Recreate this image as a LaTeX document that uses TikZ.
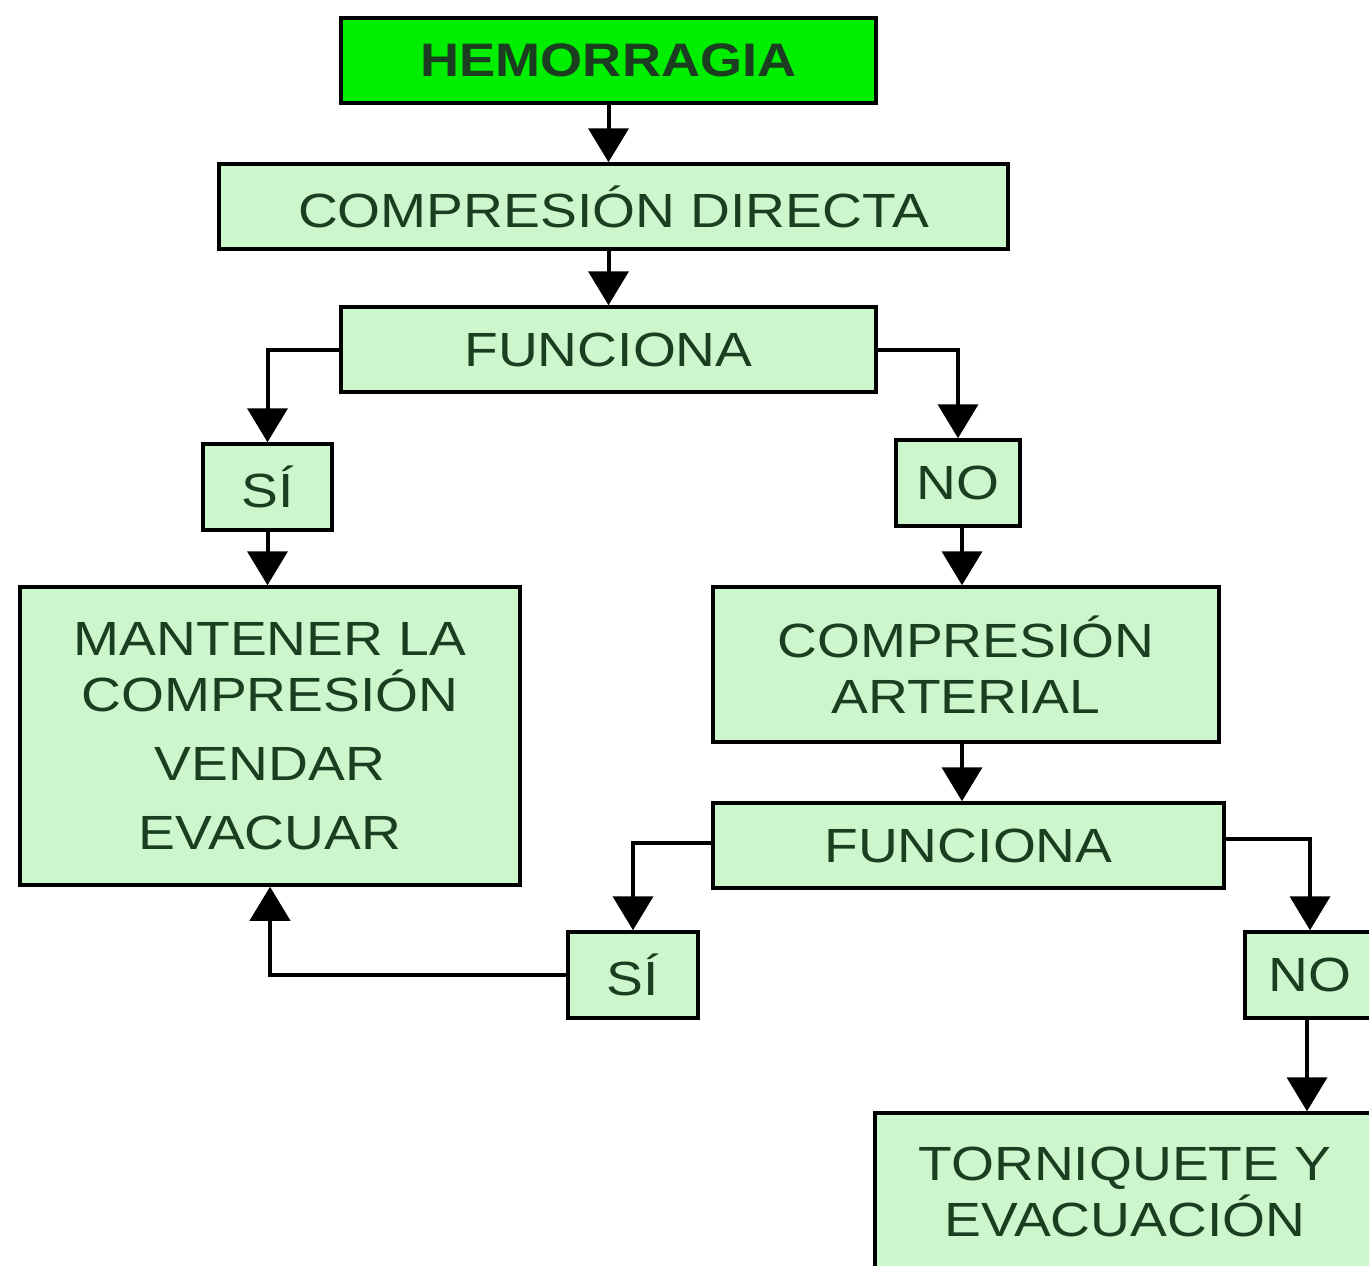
\documentclass[tikz,border=0pt]{standalone}
\usepackage{fontspec}
\setmainfont{Liberation Sans}[FakeStretch=1.15]
\usetikzlibrary{arrows.meta}
\definecolor{lightg}{RGB}{204,247,204}
\definecolor{brightg}{RGB}{0,238,0}
\definecolor{dkg}{RGB}{28,62,32}
\begin{document}
\begin{tikzpicture}[x=1pt,y=-1pt,
  box/.style={draw=black, line width=3.5pt, fill=lightg, text=dkg, inner sep=0pt,
    align=center, font=\fontsize{48}{56}\selectfont},
  arr/.style={line width=4pt, -{Triangle[width=40pt,length=34pt]}}]
\clip (0,0) rectangle (1369,1266);
\fill[white] (0,0) rectangle (1369,1266);
\node[box, fill=brightg, font=\fontsize{47}{56}\selectfont\bfseries, minimum width=535, minimum height=85] (hem) at (608.5,60.5) {HEMORRAGIA};
\node[box, minimum width=789, minimum height=85] (cd) at (613.5,206.5) {COMPRESIÓN DIRECTA};
\node[box, minimum width=535, minimum height=85] (f1) at (608.5,349.5) {FUNCIONA};
\node[box, minimum width=129, minimum height=86] (si1) at (267.5,487) {SÍ};
\node[box, minimum width=124, minimum height=86] (no1) at (958,483) {NO};
\node[box, minimum width=500, minimum height=298] (mant) at (270,736) {MANTENER LA\\COMPRESIÓN\\[13pt]VENDAR\\[13pt]EVACUAR};
\node[box, minimum width=506, minimum height=155] (ca) at (966,664.5) {COMPRESIÓN\\ARTERIAL};
\node[box, minimum width=511, minimum height=85] (f2) at (968.5,845.5) {FUNCIONA};
\node[box, minimum width=130, minimum height=86] (si2) at (633,975) {SÍ};
\node[box, minimum width=130, minimum height=86] (no2) at (1310,975) {NO};
\node[box, minimum width=500, minimum height=157] (torn) at (1125,1191.5) {TORNIQUETE Y\\EVACUACIÓN};
\draw[arr] (hem.south) -- (hem.south |- cd.north);
\draw[arr] (f1.north |- cd.south) -- (f1.north);
\draw[arr] (f1.west) -| (si1.north);
\draw[arr] (f1.east) -| (no1.north);
\draw[arr] (si1.south) -- (si1.south |- mant.north);
\draw[arr] ([xshift=4pt]no1.south) -- ([xshift=4pt]no1.south |- ca.north);
\draw[arr] ([xshift=-4pt]ca.south) -- ([xshift=-4pt]ca.south |- f2.north);
\draw[arr] ([yshift=3pt]f2.west) -| (si2.north);
\draw[arr] ([yshift=7pt]f2.east) -| (no2.north);
\draw[arr] (si2.west) -| (mant.south);
\draw[arr] ([xshift=-3pt]no2.south) -- ([xshift=-3pt]no2.south |- torn.north);
\end{tikzpicture}
\end{document}
